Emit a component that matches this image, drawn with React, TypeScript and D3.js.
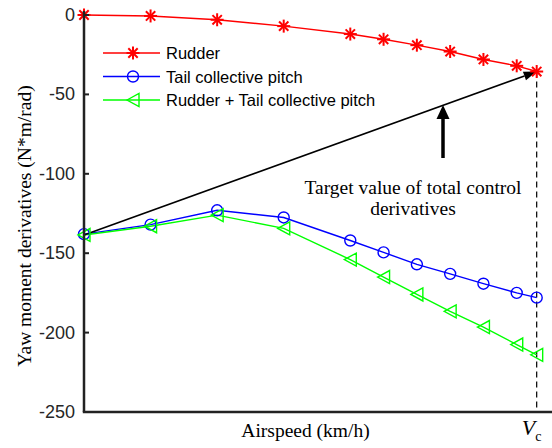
import React from "react";
import * as d3 from "d3";

// Airspeed stations (km/h) and yaw moment derivatives (N*m/rad)
const airspeed = [0, 20, 40, 60, 80, 90, 100, 110, 120, 130, 136];
const rudder = [0, -0.6, -3, -7, -12, -15.3, -19, -23, -28, -32, -35.6];
const tailPitch = [-138, -132, -123, -127.5, -142, -149.5, -157, -163, -169.2, -175, -178];
const combined = [-138.5, -133, -126, -134.4, -154, -165, -176, -186.6, -196.5, -207.5, -214];
const yTicks = [0, -50, -100, -150, -200, -250];
const seriesNames = ["Rudder", "Tail collective pitch", "Rudder + Tail collective pitch"];
const seriesColors = ["#ff0000", "#0000ff", "#00ff00"];
const vc = 136;

const W = 552;
const H = 448;
const margin = { left: 84, right: 2, top: 15, bottom: 36 };

const x = d3.scaleLinear().domain([0, 140]).range([margin.left, W - margin.right]);
const y = d3.scaleLinear().domain([-250, 0]).range([H - margin.bottom, margin.top]);

const serif = "'Liberation Serif', 'Times New Roman', serif";
const sans = "'Liberation Sans', Arial, sans-serif";

function Star({ cx, cy, color }: { cx: number; cy: number; color: string }) {
  const r = 6.5;
  const d = r * 0.72;
  return (
    <g stroke={color} strokeWidth={2}>
      <line x1={cx - r} y1={cy} x2={cx + r} y2={cy} />
      <line x1={cx} y1={cy - r} x2={cx} y2={cy + r} />
      <line x1={cx - d} y1={cy - d} x2={cx + d} y2={cy + d} />
      <line x1={cx - d} y1={cy + d} x2={cx + d} y2={cy - d} />
    </g>
  );
}

function Circle({ cx, cy, color }: { cx: number; cy: number; color: string }) {
  return <circle cx={cx} cy={cy} r={5.5} fill="none" stroke={color} strokeWidth={1.4} />;
}

function Tri({ cx, cy, color }: { cx: number; cy: number; color: string }) {
  const p = `${cx - 6},${cy} ${cx + 6},${cy - 6.5} ${cx + 6},${cy + 6.5}`;
  return <polygon points={p} fill="none" stroke={color} strokeWidth={1.4} />;
}

const markers = [Star, Circle, Tri];
const seriesData = [rudder, tailPitch, combined];

export default function App() {
  const line = d3
    .line<number>()
    .x((_, i) => x(airspeed[i]))
    .y((v) => y(v));

  // Arrow from the starting derivative to the target total value
  const ax0 = x(airspeed[0]);
  const ay0 = y(combined[0]);
  const ax1 = x(vc);
  const ay1 = y(rudder[rudder.length - 1]);
  const ang = Math.atan2(ay1 - ay0, ax1 - ax0);
  const hl = 13;
  const hw = 4.5;
  const bx = ax1 - hl * Math.cos(ang);
  const by = ay1 - hl * Math.sin(ang);
  const head = [
    [ax1, ay1],
    [bx + hw * Math.sin(ang), by - hw * Math.cos(ang)],
    [bx - hw * Math.sin(ang), by + hw * Math.cos(ang)],
  ]
    .map((p) => p.join(","))
    .join(" ");

  // Pointer arrow beneath the target line
  const px = 443;
  const pTip = 105;
  const pBottom = 158;

  return (
    <svg width={W} height={H} style={{ position: "absolute", left: 0, top: 0, background: "#fff" }}>
      {/* Vc marker line */}
      <line
        x1={x(vc)}
        x2={x(vc)}
        y1={y(rudder[rudder.length - 1])}
        y2={y(-250)}
        stroke="#000"
        strokeWidth={1.2}
        strokeDasharray="6,4"
      />

      {/* series lines */}
      {seriesData.map((s, k) => (
        <path key={k} d={line(s) || ""} fill="none" stroke={seriesColors[k]} strokeWidth={1.4} />
      ))}

      {/* target arrow */}
      <line x1={ax0} y1={ay0} x2={bx} y2={by} stroke="#000" strokeWidth={1.6} />
      <polygon points={head} fill="#000" />

      {/* markers */}
      {seriesData.map((s, k) => {
        const M = markers[k];
        return (
          <g key={k}>
            {s.map((v, i) => (
              <M key={i} cx={x(airspeed[i])} cy={y(v)} color={seriesColors[k]} />
            ))}
          </g>
        );
      })}

      {/* pointer arrow */}
      <line x1={px} x2={px} y1={pBottom} y2={pTip + 12} stroke="#000" strokeWidth={3.5} />
      <polygon points={`${px},${pTip} ${px - 6.5},${pTip + 14} ${px + 6.5},${pTip + 14}`} fill="#000" />

      <text x={413} y={194} textAnchor="middle" fontFamily={serif} fontSize={19.5} fill="#000">
        Target value of total control
      </text>
      <text x={413} y={215} textAnchor="middle" fontFamily={serif} fontSize={19.5} fill="#000">
        derivatives
      </text>

      {/* axes */}
      <line x1={x(0)} x2={x(0)} y1={y(0) - 4} y2={y(-250)} stroke="#222" strokeWidth={2.5} />
      <line x1={x(0) - 1.2} x2={W} y1={y(-250)} y2={y(-250)} stroke="#222" strokeWidth={2.5} />
      {yTicks.map((t) => (
        <g key={t}>
          <line x1={x(0)} x2={x(0) + 5} y1={y(t)} y2={y(t)} stroke="#222" strokeWidth={2} />
          <text
            x={x(0) - 9}
            y={y(t)}
            textAnchor="end"
            dominantBaseline="central"
            fontFamily={sans}
            fontSize={18}
            fill="#262626"
          >
            {t}
          </text>
        </g>
      ))}

      <text
        transform={`translate(31,226) rotate(-90)`}
        textAnchor="middle"
        fontFamily={serif}
        fontSize={19.5}
        fill="#000"
      >
        Yaw moment derivatives (N*m/rad)
      </text>
      <text x={305.5} y={437} textAnchor="middle" fontFamily={serif} fontSize={19.5} fill="#000">
        Airspeed (km/h)
      </text>
      <text x={x(vc) - 5} y={435} textAnchor="middle" fontFamily={serif} fontSize={22} fill="#000">
        <tspan fontStyle="italic">V</tspan>
        <tspan fontSize={14} dy={6}>c</tspan>
      </text>

      {/* legend */}
      {seriesNames.map((n, k) => {
        const ly = 53 + k * 23.5;
        const M = markers[k];
        return (
          <g key={n}>
            <line x1={103} x2={160} y1={ly} y2={ly} stroke={seriesColors[k]} strokeWidth={1.4} />
            <M cx={133} cy={ly} color={seriesColors[k]} />
            <text x={166} y={ly} dominantBaseline="central" fontFamily={sans} fontSize={16.5} fill="#000">
              {n}
            </text>
          </g>
        );
      })}
    </svg>
  );
}
